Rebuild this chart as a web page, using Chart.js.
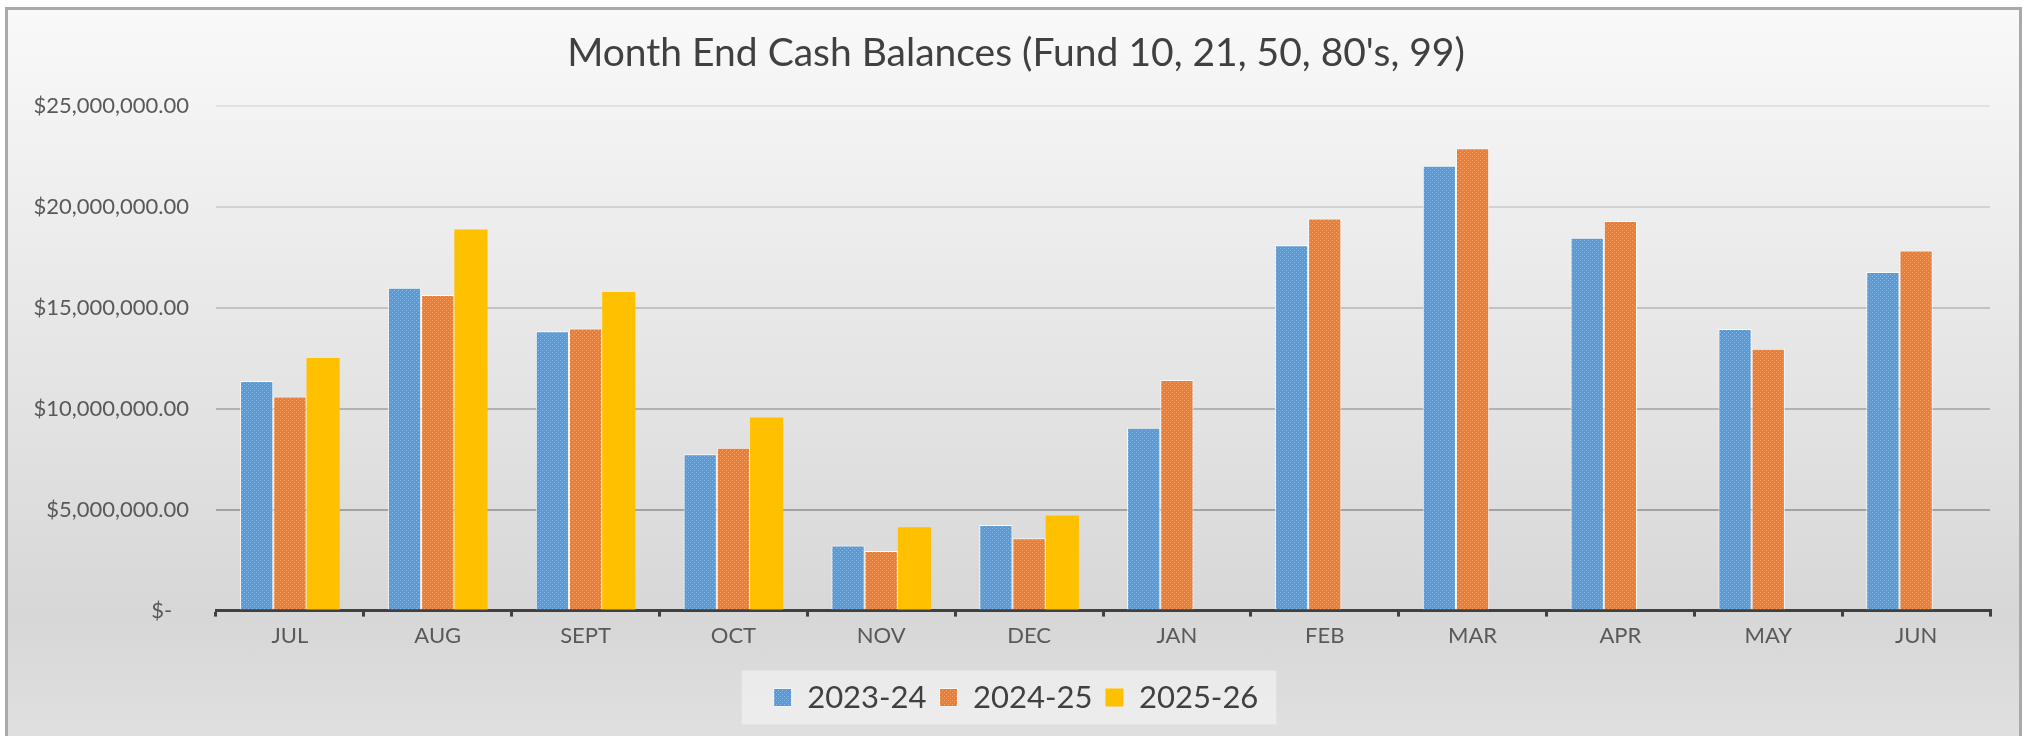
<!DOCTYPE html>
<html>
<head>
<meta charset="utf-8">
<script src="https://cdn.jsdelivr.net/npm/chart.js@4.4.1/dist/chart.umd.min.js"></script>
<style>
  html, body { margin: 0; padding: 0; background: #fff; overflow: hidden; }
  #frame {
    position: absolute; left: 5px; top: 7px; width: 2011px; height: 760px;
    border: 3px solid #a9a9a9;
    background: linear-gradient(to bottom, #f9f9f9 0%, #ececec 30%, #d7d7d7 80%, #e2e2e2 100%);
  }
  #wrap { position: absolute; left: 0; top: 0; width: 2023px; height: 736px; }
</style>
</head>
<body>
<div id="frame"></div>
<div id="wrap"><canvas id="cashChart" width="2023" height="736"></canvas></div>
<script>
// chart data
const months = ["JUL","AUG","SEPT","OCT","NOV","DEC","JAN","FEB","MAR","APR","MAY","JUN"];
const fy2324 = [11370000, 15990000, 13840000, 7740000, 3220000, 4240000, 9060000, 18090000, 22030000, 18470000, 13950000, 16770000];
const fy2425 = [10600000, 15630000, 13970000, 8070000, 2950000, 3580000, 11420000, 19420000, 22900000, 19300000, 12970000, 17830000];
const fy2526 = [12510000, 18870000, 15780000, 9560000, 4130000, 4710000, null, null, null, null, null, null];
const yTicks = [0, 5000000, 10000000, 15000000, 20000000, 25000000];

// gridlines fade out towards the top, like the Excel original
const gridColors = ['rgba(0,0,0,0)', '#a2a2a2', '#b2b2b2', '#c2c2c2', '#d2d2d2', '#e2e2e2'];

function dotted(base, dot) {
  const c = document.createElement('canvas');
  c.width = 4; c.height = 4;
  const g = c.getContext('2d');
  g.fillStyle = base; g.fillRect(0, 0, 4, 4);
  g.fillStyle = dot;
  g.fillRect(0, 0, 1, 1); g.fillRect(2, 2, 1, 1);
  return g.createPattern(c, 'repeat');
}

const money = v => v === 0 ? '$-   ' :
  '$' + v.toLocaleString('en-US', { minimumFractionDigits: 2, maximumFractionDigits: 2 });

// light panel behind the legend
const legendPanel = {
  id: 'legendPanel',
  beforeDraw(chart) {
    const lg = chart.legend;
    if (!lg || !lg.legendHitBoxes.length) return;
    const boxes = lg.legendHitBoxes;
    const first = boxes[0], last = boxes[boxes.length - 1];
    const mid = first.top + first.height / 2;
    const ctx = chart.ctx;
    ctx.save();
    ctx.fillStyle = 'rgba(240,240,240,0.75)';
    ctx.fillRect(first.left - 32, mid - 27, last.left + last.width - first.left + 50, 54);
    ctx.restore();
  }
};

new Chart(document.getElementById('cashChart').getContext('2d'), {
  type: 'bar',
  data: {
    labels: months,
    datasets: [
      { label: '2023-24', data: fy2324, backgroundColor: dotted('#5b9bd5', '#8ab8e4'),
        borderColor: 'rgba(255,255,255,0.85)', borderWidth: 1 },
      { label: '2024-25', data: fy2425, backgroundColor: dotted('#ed7d31', '#f3a571'),
        borderColor: 'rgba(255,255,255,0.85)', borderWidth: 1 },
      { label: '2025-26', data: fy2526, backgroundColor: '#ffc000', borderWidth: 0 }
    ]
  },
  options: {
    responsive: false,
    animation: false,
    layout: { padding: { left: 12, right: 3, top: 30, bottom: 13 } },
    datasets: { bar: { categoryPercentage: 0.674, barPercentage: 1.0 } },
    plugins: {
      title: {
        display: true,
        text: "Month End Cash Balances (Fund 10, 21, 50, 80's, 99)",
        color: '#404040',
        font: { family: 'Lato', size: 39, weight: 'normal' },
        padding: { top: 0, bottom: 29 }
      },
      legend: {
        position: 'bottom',
        labels: {
          color: '#404040',
          font: { family: 'Lato', size: 31 },
          boxWidth: 18, boxHeight: 18,
          padding: 13
        }
      },
      tooltip: { enabled: false }
    },
    scales: {
      x: {
        afterFit: s => { s.height += 14; },
        grid: { offset: true, drawOnChartArea: false, drawTicks: true, tickLength: 6,
                color: '#404040', lineWidth: 3 },
        border: { color: '#404040', width: 3 },
        ticks: { color: '#595959', font: { family: 'Lato', size: 22 }, padding: 6 }
      },
      y: {
        min: 0, max: 25000000,
        afterBuildTicks: s => { s.ticks = yTicks.map(v => ({ value: v })); },
        afterFit: s => { s.width = 204; },
        grid: { drawTicks: false, lineWidth: 2, color: c => gridColors[c.index] },
        border: { display: false },
        ticks: { color: '#595959', font: { family: 'Lato', size: 22 }, padding: 27, callback: money }
      },
      // empty right-hand spacer so the title centres like the original
      yRight: {
        position: 'right', min: 0, max: 1,
        afterFit: s => { s.width = 30; },
        grid: { display: false },
        border: { display: false },
        ticks: { display: false }
      }
    }
  },
  plugins: [legendPanel]
});
</script>
</body>
</html>
